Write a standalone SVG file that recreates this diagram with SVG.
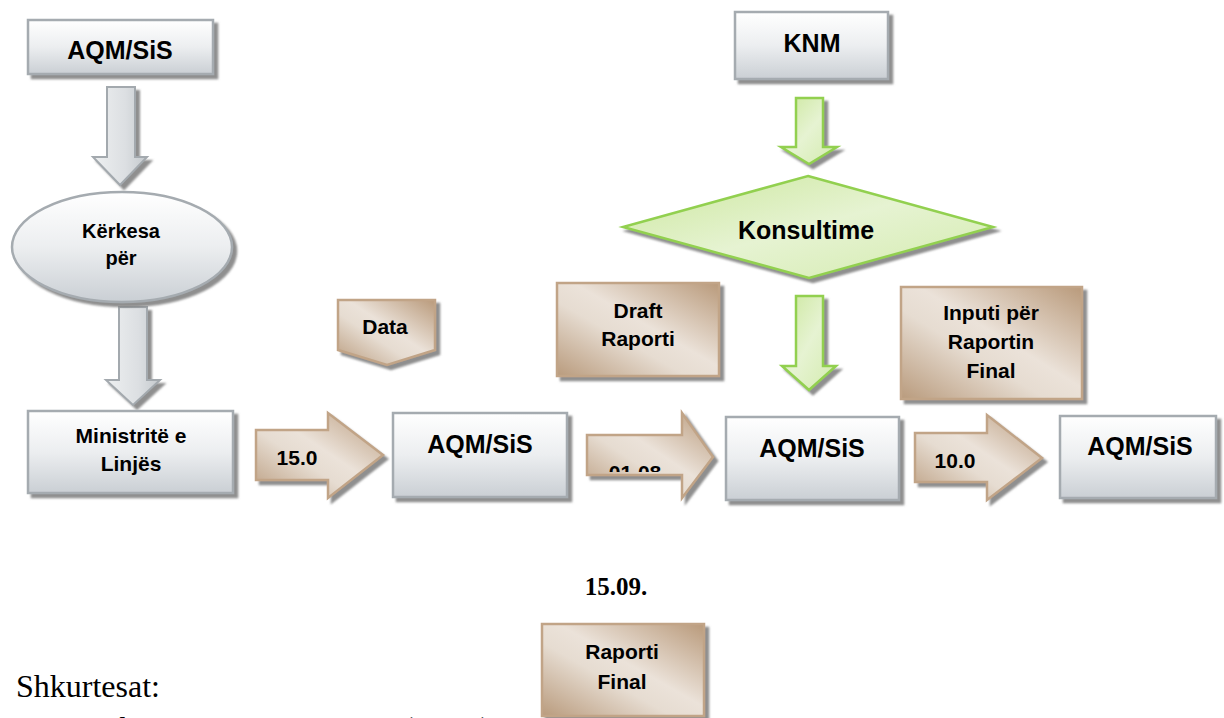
<svg xmlns="http://www.w3.org/2000/svg" width="1224" height="718" viewBox="0 0 1224 718">
<style>
.gbox{fill:url(#gGray);stroke:#a5abb0;stroke-width:2.5;filter:url(#sh)}
.garr{fill:url(#gGrayArr);stroke:#a3a9ae;stroke-width:2;filter:url(#sh)}
.green{fill:url(#gGreen);stroke:#92d050;stroke-width:2.5;filter:url(#sh)}
.brown{fill:url(#gBrown);stroke:#c1a487;stroke-width:2.5;filter:url(#sh)}
.t{font-family:"Liberation Sans",Arial,sans-serif;font-weight:bold;fill:#000;text-anchor:middle}
.big{font-size:25px}
.sm{font-size:21px}
.serif{font-family:"Liberation Serif","Times New Roman",serif;fill:#000}
</style>
<defs>
<filter id="sh" x="-10%" y="-10%" width="130%" height="140%">
<feDropShadow dx="4" dy="4" stdDeviation="0.8" flood-color="#7a7a7a" flood-opacity="0.85"/>
</filter>
<linearGradient id="gGray" x1="0" y1="0" x2="0" y2="1">
<stop offset="0" stop-color="#ffffff"/>
<stop offset="0.5" stop-color="#eceef0"/>
<stop offset="1" stop-color="#cacfd4"/>
</linearGradient>
<linearGradient id="gGrayArr" x1="0" y1="0" x2="1" y2="0">
<stop offset="0" stop-color="#eef0f1"/>
<stop offset="0.6" stop-color="#dcdfe2"/>
<stop offset="1" stop-color="#c4c9cd"/>
</linearGradient>
<linearGradient id="gGreen" x1="0" y1="0" x2="1" y2="1">
<stop offset="0" stop-color="#cbe79c"/>
<stop offset="0.5" stop-color="#e6f3d2"/>
<stop offset="1" stop-color="#d3ebad"/>
</linearGradient>
<linearGradient id="gBrown" x1="1" y1="0" x2="0" y2="1">
<stop offset="0" stop-color="#b99a7b"/>
<stop offset="0.45" stop-color="#ebe2d9"/>
<stop offset="0.6" stop-color="#e6dcd1"/>
<stop offset="1" stop-color="#b99b7d"/>
</linearGradient>
<clipPath id="clip0108"><rect x="587" y="436" width="95" height="36"/></clipPath>
</defs>
<rect width="1224" height="718" fill="#ffffff"/>

<g id="connectors">
<g id="arr-aqm-kerkesa"><path class="garr" d="M107,87 L135,87 L135,157 L147,157 L120,185 L93,157 L107,157 Z"/></g>
<g id="arr-kerkesa-ministrite"><path class="garr" d="M119,307 L147,307 L147,380 L160,380 L133,405 L106,380 L119,380 Z"/></g>
<g id="arr-150"><path class="brown" d="M256,430 L328,430 L328,413 L383,455 L328,498 L328,480 L256,480 Z"/>
<text class="t sm" x="297" y="465">15.0</text></g>
<g id="arr-0108"><path class="brown" d="M587,435 L682,435 L682,413 L713,457 L682,498 L682,475 L587,475 Z"/>
<text class="t sm" x="635" y="480" clip-path="url(#clip0108)">01.08</text></g>
<g id="arr-100"><path class="brown" d="M915,433 L987,433 L987,415 L1042,458 L987,500 L987,482 L915,482 Z"/>
<text class="t sm" x="955" y="468">10.0</text></g>
<g id="arr-knm-konsultime"><path class="green" d="M796,98 L823,98 L823,147 L837,147 L809,164 L781,147 L796,147 Z"/></g>
<g id="arr-konsultime-aqm"><path class="green" d="M796,296 L823,296 L823,366 L836,366 L809,390 L782,366 L796,366 Z"/></g>
</g>

<g id="node-aqm-top"><rect class="gbox" x="28" y="20" width="185" height="54"/>
<text class="t big" x="120" y="59">AQM/SiS</text></g>

<g id="node-kerkesa"><ellipse cx="122" cy="247" rx="110" ry="55" fill="url(#gGray)" stroke="#a5abb0" stroke-width="2.5" filter="url(#sh)"/>
<text class="t" style="font-size:20px" x="121" y="238">Kërkesa</text>
<text class="t" style="font-size:20px" x="121" y="265">për</text></g>

<g id="node-ministrite"><rect class="gbox" x="28" y="411" width="205" height="82"/>
<text class="t sm" x="131" y="443">Ministritë e</text>
<text class="t sm" x="131" y="471">Linjës</text></g>

<g id="node-aqm-2"><rect class="gbox" x="393" y="413" width="174" height="84"/>
<text class="t big" x="480" y="453">AQM/SiS</text></g>

<g id="node-data"><path class="brown" d="M338,300 L435,300 L435,350 L387,365 L338,350 Z"/>
<text class="t sm" x="385" y="334">Data</text></g>

<g id="node-knm"><rect class="gbox" x="735" y="12" width="153" height="67"/>
<text class="t big" x="812" y="52">KNM</text></g>

<g id="node-konsultime"><path class="green" d="M808,176 L993,227 L809,278 L623,227 Z"/>
<text class="t big" x="806" y="239">Konsultime</text></g>

<g id="node-draft"><rect class="brown" x="557" y="283" width="162" height="93"/>
<text class="t sm" x="638" y="318">Draft</text>
<text class="t sm" x="638" y="346">Raporti</text></g>

<g id="node-aqm-3"><rect class="gbox" x="726" y="417" width="173" height="83"/>
<text class="t big" x="812" y="457">AQM/SiS</text></g>

<g id="node-inputi"><rect class="brown" x="901" y="287" width="181" height="112"/>
<text class="t sm" x="991" y="320">Inputi për</text>
<text class="t sm" x="991" y="349">Raportin</text>
<text class="t sm" x="991" y="378">Final</text></g>

<g id="node-aqm-4"><rect class="gbox" x="1060" y="416" width="156" height="82"/>
<text class="t big" x="1140" y="455">AQM/SiS</text></g>

<g id="label-1509"><text class="serif" style="font-size:25px;font-weight:bold" x="616" y="595" text-anchor="middle">15.09.</text></g>

<g id="node-raporti-final"><rect class="brown" x="542" y="624" width="162" height="92"/>
<text class="t sm" x="622" y="659">Raporti</text>
<text class="t sm" x="622" y="689">Final</text></g>

<g id="legend">
<text class="serif" style="font-size:32px" x="16" y="697">Shkurtesat:</text>
<text class="serif" style="font-size:32px" x="16" y="739">SiS - Sekretariati i Strategjisë (MPB)</text>
</g>
</svg>
